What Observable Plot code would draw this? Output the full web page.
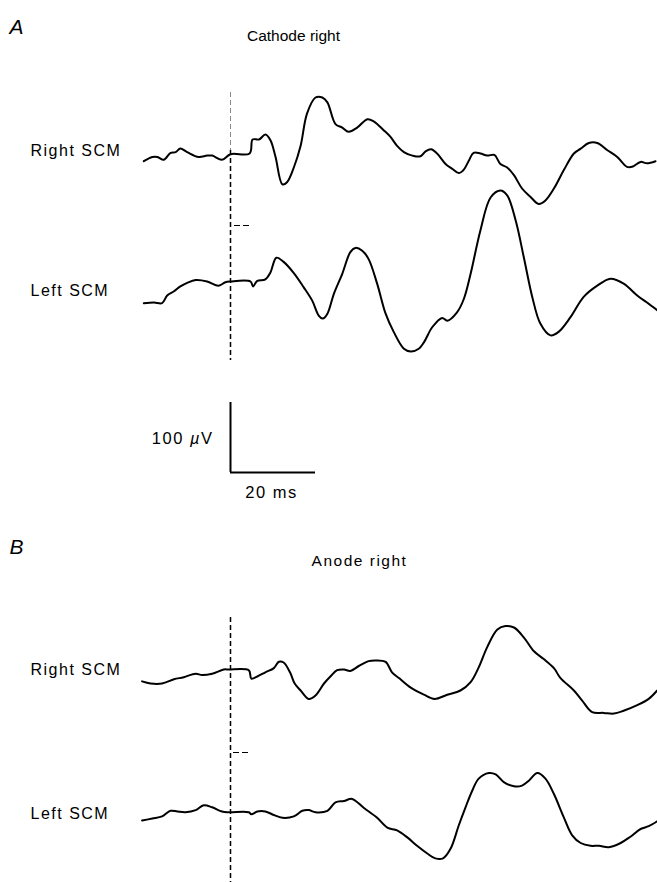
<!DOCTYPE html>
<html>
<head>
<meta charset="utf-8">
<script src="https://cdn.jsdelivr.net/npm/d3@7"></script>
<script src="https://cdn.jsdelivr.net/npm/@observablehq/plot@0.6"></script>
<style>
  body { margin: 0; background: #fff; }
  #chart svg { display: block; }
</style>
</head>
<body>
<div id="chart"></div>
<script>
// Averaged SCM responses: [time (ms, 0 = stimulus), amplitude (µV, from pre-stimulus baseline)]
const cathodeRightSCMRight = [
  [-20.4,-11],[-18.4,-5],[-17.2,-5],[-15.7,-9],[-14.1,1],[-12.9,2],[-11.8,7],[-10.2,2],
  [-7.5,-5],[-5.5,-3],[-4.3,-3],[-2.0,-9],[0,-1],[4.5,0],[5.2,20],[6.7,20],[8.2,27],
  [9.4,19],[10.6,-5],[12.2,-44],[13.3,-41],[14.9,-20],[16.5,11],[18.0,57],[20.0,80],
  [21.6,80],[22.8,73],[24.7,42],[26.3,37],[27.8,31],[29.8,37],[32.2,49],[33.7,46],
  [36.1,33],[37.6,24],[39.2,11],[40.8,2],[42.8,-3],[44.7,-4],[45.9,3],[47.2,6],[48.6,0],
  [50.6,-15],[52.2,-22],[53.7,-28],[54.9,-23],[56.1,-10],[57.2,1],[58.8,0],[60.4,-3],
  [62.1,-2],[63.5,-15],[65.1,-20],[66.7,-31],[68.6,-50],[70.6,-62],[72.5,-72],[74.1,-67],
  [76.1,-50],[78.4,-24],[80.8,0],[82.4,7],[84.3,15],[86.3,15],[88.6,5],[91.0,-5],
  [93.3,-19],[94.5,-19],[96.5,-12],[98.0,-14],[100.0,-11]
];
const cathodeRightSCMLeft = [
  [-20.4,-31],[-18.0,-30],[-16.1,-31],[-14.9,-20],[-13.3,-14],[-11.8,-7],[-10.2,-2],
  [-8.2,2],[-5.5,0],[-2.8,-6],[-1.2,-1],[0,0],[4.7,0],[5.3,-7],[6.3,1],[8.2,3],[9.4,13],
  [10.8,34],[12.5,28],[14.9,12],[17.2,-8],[19.2,-27],[20.8,-49],[21.7,-53],[22.8,-46],
  [24.3,-18],[26.3,11],[28.2,42],[29.4,48],[31.0,44],[32.5,32],[34.5,-3],[36.5,-46],
  [38.4,-72],[40.8,-96],[42.4,-100],[44.3,-96],[45.5,-87],[47.5,-65],[49.8,-52],[51.0,-56],
  [53.3,-44],[54.9,-25],[56.5,11],[58.8,73],[61.2,120],[63.5,130],[65.1,123],[67.1,87],
  [69.0,35],[71.0,-22],[72.9,-60],[75.3,-77],[77.2,-72],[80.0,-51],[83.1,-22],[86.3,-6],
  [89.4,4],[92.5,-3],[95.7,-20],[98.0,-30],[100.4,-41]
];
const anodeRightSCMRight = [
  [-20.8,-17],[-18.8,-20],[-16.1,-20],[-13.3,-14],[-11.0,-11],[-8.2,-6],[-6.7,-8],
  [-4.3,-6],[-1.6,0],[-0.4,0],[4.3,-1],[4.9,-13],[6.3,-10],[8.2,-4],[10.2,2],[11.4,11],
  [12.5,10],[14.0,-4],[15.1,-20],[16.5,-30],[18.4,-42],[20.0,-37],[22.0,-20],[23.5,-10],
  [25.1,-1],[26.7,0],[28.2,-2],[30.2,5],[32.5,12],[34.1,13],[36.5,11],[38.0,-4],
  [39.8,-13],[42.4,-26],[45.5,-36],[48.0,-42],[51.0,-36],[54.1,-30],[56.5,-18],[58.4,3],
  [60.4,32],[62.8,57],[64.7,62],[66.7,60],[69.0,46],[71.4,26],[73.7,15],[76.1,2],
  [77.6,-12],[80.8,-30],[82.7,-44],[85.1,-61],[87.8,-62],[90.2,-63],[92.5,-59],
  [95.7,-51],[98.4,-42],[100.4,-30]
];
const anodeRightSCMLeft = [
  [-20.8,-13],[-18.4,-10],[-16.1,-7],[-14.1,1],[-12.5,0],[-10.6,-1],[-8.2,2],[-6.3,9],
  [-4.3,6],[-2.0,0],[-0.4,-1],[4.3,-1],[4.9,-4],[6.3,0],[8.2,0],[10.2,-5],[12.2,-9],
  [14.9,-7],[16.9,1],[18.4,2],[20.0,-1],[22.8,1],[24.7,13],[26.7,15],[28.6,18],[31.4,5],
  [34.5,-9],[36.9,-23],[39.2,-27],[41.6,-37],[43.9,-49],[46.3,-60],[48.2,-67],[50.0,-67],
  [51.8,-53],[53.7,-20],[55.3,6],[56.9,30],[58.4,47],[60.8,55],[62.4,53],[64.3,42],
  [66.7,36],[68.6,37],[70.2,44],[72.2,55],[74.1,47],[76.1,25],[78.4,-8],[80.4,-34],
  [82.4,-45],[84.7,-49],[86.7,-49],[89.0,-51],[91.8,-45],[94.1,-36],[96.5,-25],
  [98.4,-21],[100.4,-14]
];

// Panel and trace labels
const panelLetters = ["A", "B"];
const panelTitles = ["Cathode right", "Anode right"];
const traceLabels = ["Right SCM", "Left SCM"];
// Calibration bar values
const scaleBarUV = 100;
const scaleBarMS = 20;

// Page geometry: the x scale is in ms, the y scale in µV, both at fixed gain
const W = 657, H = 882;
const PX_PER_MS = 4.25, PX_PER_UV = 0.7, STIM_PX = 230;
const lvl = py => -py / PX_PER_UV;            // vertical page position in µV units
const tAt = px => (px - STIM_PX) / PX_PER_MS; // horizontal page position in ms

const traces = [
  {name: "A-right", data: cathodeRightSCMRight, base: 153},
  {name: "A-left",  data: cathodeRightSCMLeft,  base: 281},
  {name: "B-right", data: anodeRightSCMRight,   base: 669},
  {name: "B-left",  data: anodeRightSCMLeft,    base: 811}
];
const rows = traces.flatMap(tr =>
  tr.data.map(([t, v]) => ({trace: tr.name, t, y: v + lvl(tr.base)}))
);

const font = "'Liberation Sans', Arial, Helvetica, sans-serif";
const sb = lvl(472); // calibration bar corner

const plot = Plot.plot({
  width: W,
  height: H,
  margin: 0,
  x: {domain: [tAt(0), tAt(W)], axis: null},
  y: {domain: [lvl(H), 0], axis: null},
  style: {fontFamily: font, background: "white", color: "black"},
  marks: [
    // stimulus onset markers
    Plot.ruleX([0], {y1: lvl(92), y2: lvl(150), stroke: "#888", strokeWidth: 1, strokeDasharray: "5,3"}),
    Plot.ruleX([0], {y1: lvl(150), y2: lvl(360), stroke: "black", strokeWidth: 1.5, strokeDasharray: "5,3"}),
    Plot.ruleX([0], {y1: lvl(617), y2: lvl(H), stroke: "black", strokeWidth: 1.5, strokeDasharray: "5,3"}),
    Plot.ruleY([lvl(225)], {x1: tAt(234), x2: tAt(250), stroke: "black", strokeWidth: 1.2, strokeDasharray: "6,3"}),
    Plot.ruleY([lvl(752)], {x1: tAt(233), x2: tAt(249), stroke: "black", strokeWidth: 1.2, strokeDasharray: "6,3"}),
    // EMG traces
    Plot.line(rows, {x: "t", y: "y", z: "trace", stroke: "black", strokeWidth: 2,
      curve: "catmull-rom", strokeLinejoin: "round", strokeLinecap: "round"}),
    // calibration bar
    Plot.ruleX([0], {y1: sb, y2: sb + scaleBarUV, stroke: "black", strokeWidth: 2}),
    Plot.ruleY([sb], {x1: 0, x2: scaleBarMS, stroke: "black", strokeWidth: 2}),
    Plot.text([`${scaleBarUV} µV`], {x: tAt(213), y: lvl(443), text: d => d, textAnchor: "end",
      lineAnchor: "bottom", fontSize: 16.5}),
    Plot.text([`${scaleBarMS} ms`], {x: tAt(271), y: lvl(497), text: d => d, textAnchor: "middle",
      lineAnchor: "bottom", fontSize: 16.5}),
    // panel letters and titles
    Plot.text(panelLetters, {x: tAt(9), y: (d, i) => lvl([33, 553][i]), text: d => d,
      textAnchor: "start", lineAnchor: "bottom", fontSize: 21, fontStyle: "italic"}),
    Plot.text(panelTitles, {x: (d, i) => tAt([293, 359][i]), y: (d, i) => lvl([40, 565][i]),
      text: d => d, textAnchor: "middle", lineAnchor: "bottom", fontSize: 15.5}),
    // trace labels
    Plot.text([0, 1, 0, 1], {x: tAt(30), y: (d, i) => lvl([155, 295, 674, 818][i]),
      text: d => traceLabels[d], textAnchor: "start", lineAnchor: "bottom", fontSize: 16})
  ]
});

// typographic details: spaced label lettering and an italic µ
const svg = d3.select(plot);
svg.selectAll("text").each(function () {
  const s = this.textContent;
  if (s.includes("SCM") || s === "Anode right" || s.includes(" ms") || s.includes("µV")) {
    d3.select(this).attr("letter-spacing", 1.5);
  }
  if (s.includes("µV")) {
    const node = d3.select(this).text(null);
    node.append("tspan").text(`${scaleBarUV} `);
    node.append("tspan").attr("font-style", "italic").text("µ");
    node.append("tspan").text("V");
  }
});

document.getElementById("chart").append(plot);
</script>
</body>
</html>
